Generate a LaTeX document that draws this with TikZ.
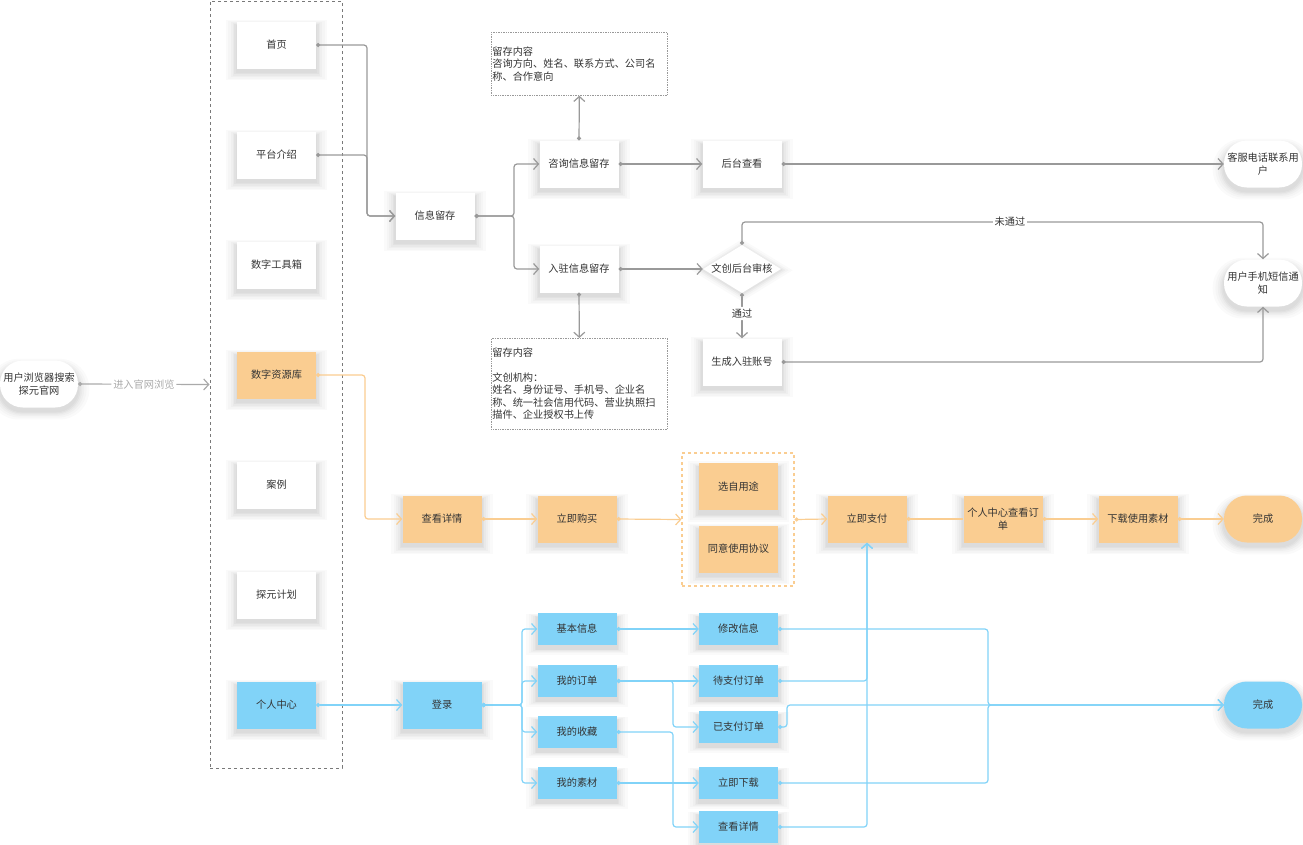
\documentclass[tikz,border=0pt]{standalone}
\usepackage{fontspec}
\setmainfont{Noto Sans CJK SC}
\usetikzlibrary{arrows.meta,shapes.geometric,shadows}
\definecolor{boxtext}{HTML}{333333}
\definecolor{linegray}{HTML}{999999}
\definecolor{labelgray}{HTML}{AAAAAA}
\definecolor{dashgray}{HTML}{797979}
\definecolor{orangefill}{HTML}{FACD91}
\definecolor{bluefill}{HTML}{81D3F8}
\tikzset{
  softshadow/.style={
    general shadow={fill=black, opacity=.03, shadow scale=1.03, shadow yshift=-4pt},
    general shadow={fill=black, opacity=.03, shadow scale=1.07, shadow yshift=-4pt},
    general shadow={fill=black, opacity=.025, shadow scale=1.11, shadow yshift=-4pt},
    general shadow={fill=black, opacity=.025, shadow scale=1.16, shadow yshift=-4pt},
    general shadow={fill=black, opacity=.02, shadow scale=1.22, shadow yshift=-4pt},
    general shadow={fill=black, opacity=.02, shadow scale=1.29, shadow yshift=-4pt}},
  diamondshadow/.style={
    general shadow={fill=black, opacity=.035, shadow scale=1.05, shadow yshift=-1pt},
    general shadow={fill=black, opacity=.03, shadow scale=1.12, shadow yshift=-1pt},
    general shadow={fill=black, opacity=.025, shadow scale=1.2, shadow yshift=-1pt},
    general shadow={fill=black, opacity=.02, shadow scale=1.3, shadow yshift=-1pt}},
  box/.style={rectangle, fill=white, text=boxtext, minimum width=79pt, minimum height=47pt,
    inner sep=1pt, align=center, font=\fontsize{10.2pt}{12.5pt}\selectfont, softshadow},
  orangebox/.style={box, fill=orangefill},
  bluebox/.style={box, fill=bluefill},
  smallblue/.style={bluebox, minimum height=32pt},
  pill/.style={box, minimum width=78pt, rounded corners=23pt},
  decision/.style={diamond, fill=white, minimum width=78pt, minimum height=48pt, inner sep=0pt, diamondshadow},
  notebox/.style={rectangle, draw=linegray, densely dotted, line width=.7pt, anchor=north west,
    text width=174pt, inner xsep=1pt, align=left, text=boxtext, font=\fontsize{10.2pt}{12.5pt}\selectfont},
  menubox/.style={rectangle, draw=dashgray, dashed, line width=1pt, minimum width=132pt, minimum height=767pt, inner sep=0pt},
  groupbox/.style={rectangle, draw=orangefill, dashed, line width=1.2pt, minimum width=112pt, minimum height=133pt, inner sep=0pt},
  elabel/.style={fill=white, text=boxtext, inner sep=2pt, font=\fontsize{10.2pt}{12.5pt}\selectfont},
  link/.style={draw=linegray, line width=1.2pt, rounded corners=3pt, {Circle[length=4pt]}-{Straight Barb[length=5pt,width=11pt]}},
  olink/.style={link, draw=orangefill},
  blink/.style={link, draw=bluefill}
}
\begin{document}
\begin{tikzpicture}[x=1pt, y=-1pt]
  \useasboundingbox (0,0) rectangle (1303,844);
  \node[pill] (browser) at (39,384) {用户浏览器搜索\\探元官网};
  \node[menubox] (menu) at (276,384.5) {};
  \node[box] (home) at (276.5,45) {首页};
  \node[box] (intro) at (276.5,155) {平台介绍};
  \node[box] (toolbox) at (276.5,265) {数字工具箱};
  \node[orangebox] (resource) at (276.5,375) {数字资源库};
  \node[box] (cases) at (276.5,485) {案例};
  \node[box] (plan) at (276.5,595) {探元计划};
  \node[bluebox] (center) at (276.5,705) {个人中心};

  \node[box] (info) at (435,216) {信息留存};
  \node[box] (consult) at (579,164) {咨询信息留存};
  \node[box] (settle) at (579,269) {入驻信息留存};
  \node[box] (backend) at (742,164) {后台查看};
  \node[decision, label={[text=boxtext, font=\fontsize{10.2pt}{12.5pt}\selectfont]center:文创后台审核}] (audit) at (742,269) {};
  \node[box] (account) at (742,362) {生成入驻账号};
  \node[pill] (phone) at (1263,164) {客服电话联系用\\户};
  \node[pill] (sms) at (1263,283) {用户手机短信通\\知};
  \node[notebox, minimum height=63pt] (note1) at (491,32) {留存内容\\咨询方向、姓名、联系方式、公司名\\称、合作意向};
  \node[notebox, minimum height=91pt] (note2) at (491,338) {留存内容\\[12.5pt]文创机构：\\姓名、身份证号、手机号、企业名\\称、统一社会信用代码、营业执照扫\\描件、企业授权书上传};

  \node[orangebox] (detail) at (442,519) {查看详情};
  \node[orangebox] (buy) at (577,519) {立即购买};
  \node[groupbox] (choose) at (738,519.5) {};
  \node[orangebox] (purpose) at (738.5,486.5) {选自用途};
  \node[orangebox] (agree) at (738.5,549) {同意使用协议};
  \node[orangebox] (pay) at (867,519) {立即支付};
  \node[orangebox] (order) at (1003,519) {个人中心查看订\\单};
  \node[orangebox] (material) at (1138,519) {下载使用素材};
  \node[pill, fill=orangefill] (done) at (1263,519) {完成};

  \node[bluebox] (login) at (442,705) {登录};
  \node[smallblue] (basic) at (577,629) {基本信息};
  \node[smallblue] (myorder) at (577,681) {我的订单};
  \node[smallblue] (fav) at (577,732) {我的收藏};
  \node[smallblue] (mine) at (577,783) {我的素材};
  \node[smallblue] (modify) at (738.5,629) {修改信息};
  \node[smallblue] (pending) at (738.5,681) {待支付订单};
  \node[smallblue] (paid) at (738.5,727) {已支付订单};
  \node[smallblue] (getnow) at (738.5,783) {立即下载};
  \node[smallblue] (view) at (738.5,827) {查看详情};
  \node[pill, fill=bluefill] (finish) at (1263,705) {完成};

  \coordinate (j1) at (367,216);
  \coordinate (j2) at (514,216);
  \coordinate (j3) at (742,222);
  \coordinate (j4) at (365,519);
  \coordinate (j5) at (522,705);
  \coordinate (j6) at (673,681);
  \coordinate (j7) at (673,827);
  \coordinate (j8) at (988,705);
  \coordinate (j9) at (787,705);

  \draw[link, draw=labelgray] (browser.east) -- (menu.west) node[elabel, midway, text=labelgray] (enter) {进入官网浏览};
  \draw[link] (home.east) -| (j1) -- (info.west);
  \draw[link] (intro.east) -| (j1) -- (info.west);
  \draw[link] (info.east) -- (j2) |- (consult.west);
  \draw[link] (info.east) -- (j2) |- (settle.west);
  \draw[link] (consult.north) -- (note1.south);
  \draw[link] (settle.south) -- (note2.north);
  \draw[link] (consult.east) -- (backend.west);
  \draw[link] (settle.east) -- (audit.west);
  \draw[link] (backend.east) -- (phone.west);
  \draw[link] (audit.north) -- (j3) -| (sms.north);
  \node[elabel] (failed) at (1010,222) {未通过};
  \draw[link] (audit.south) -- (account.north) node[elabel, pos=.45] (passed) {通过};
  \draw[link] (account.east) -| (sms.south);

  \draw[olink] (resource.east) -| (j4) -- (detail.west);
  \draw[olink] (detail.east) -- (buy.west);
  \draw[olink] (buy.east) -- (choose.west);
  \draw[olink] (choose.east) -- (pay.west);
  \draw[olink, {Circle[length=4pt]}-] (pay.east) -- (order.west);
  \draw[olink] (order.east) -- (material.west);
  \draw[olink] (material.east) -- (done.west);

  \draw[blink] (center.east) -- (login.west);
  \foreach \item in {basic,myorder,fav,mine}
    \draw[blink] (login.east) -- (j5) |- (\item.west);
  \draw[blink] (basic.east) -- (modify.west);
  \draw[blink] (myorder.east) -- (pending.west);
  \draw[blink] (myorder.east) -- (j6) |- (paid.west);
  \draw[blink] (fav.east) -| (j7) -- (view.west);
  \draw[blink] (mine.east) -- (getnow.west);
  \draw[blink] (pending.east) -| (pay.south);
  \draw[blink] (view.east) -| (pay.south);
  \draw[blink] (modify.east) -| (j8) -- (finish.west);
  \draw[blink] (getnow.east) -| (j8) -- (finish.west);
  \draw[blink] (paid.east) -| (j9) -- (finish.west);
\end{tikzpicture}
\end{document}
